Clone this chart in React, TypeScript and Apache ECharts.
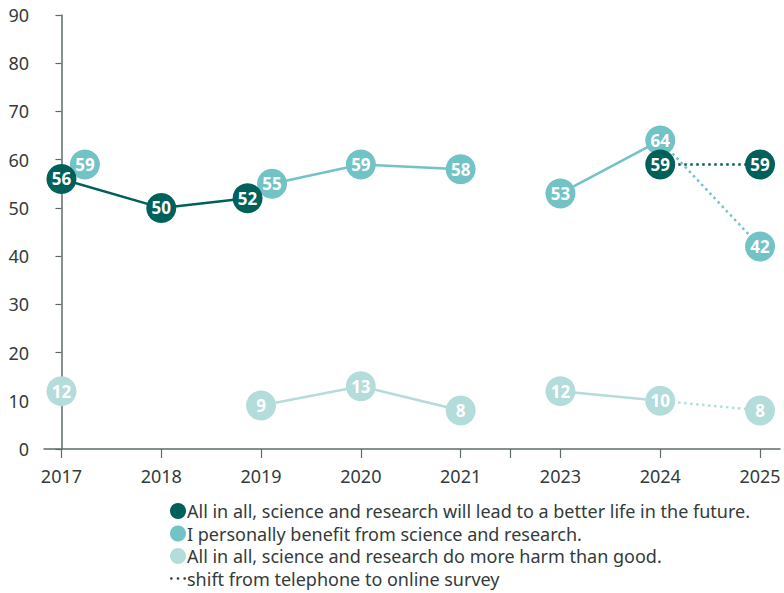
import React, { useEffect, useRef } from "react";
import * as echarts from "echarts";

// Survey years (2022 has no survey, so the axis jumps from 2021 to 2023)
const years = ["2017", "2018", "2019", "2020", "2021", "2023", "2024", "2025"];
const yTicks = [0, 10, 20, 30, 40, 50, 60, 70, 80, 90];

const betterLife = [56, 50, 52, null, null, null, 59, 59];
const personalBenefit = [59, null, 55, 59, 58, 53, 64, 42];
const moreHarm = [12, null, 9, 13, 8, 12, 10, 8];

// small horizontal nudges (in year steps) so overlapping bubbles stay readable
const betterLifeShift = [0, 0, -0.135, 0, 0, 0, 0, 0];
const benefitShift = [0.235, 0, 0.11, 0, 0, 0, 0, 0];
const harmShift = [0, 0, 0, 0, 0, 0, 0, 0];

// solid lines are broken before these years (survey gap / change of method)
const breakBefore = [false, false, false, false, false, true, false, true];

const names = [
  "All in all, science and research will lead to a better life in the future.",
  "I personally benefit from science and research.",
  "All in all, science and research do more harm than good.",
];
const methodNote = "shift from telephone to online survey";

const colors = ["#00605A", "#72C3C5", "#B4DCDB"];
const textColor = "#333B3B";
const axisColor = "#5E6B6B";
const font = "Noto Sans";

type Pt = [number, number | string];

function solidData(vals: (number | null)[], shift: number[]): Pt[] {
  const out: Pt[] = [];
  vals.forEach((v, i) => {
    if (v == null) {
      out.push([i, "-"]);
      return;
    }
    if (breakBefore[i]) out.push([i - 0.5, "-"]);
    out.push([i + shift[i], v]);
  });
  return out;
}

function dottedData(vals: (number | null)[], shift: number[]): Pt[] {
  const a = vals[6];
  const b = vals[7];
  if (a == null || b == null) return [];
  return [
    [6 + shift[6], a],
    [7 + shift[7], b],
  ];
}

export default function App() {
  const ref = useRef<HTMLDivElement>(null);

  useEffect(() => {
    document.body.style.margin = "0";
    if (!ref.current) return;
    const chart = echarts.init(ref.current, null, { renderer: "svg" });

    const valueSets = [betterLife, personalBenefit, moreHarm];
    const shifts = [betterLifeShift, benefitShift, harmShift];

    const dotted = valueSets.map((vals, k) => ({
      type: "line",
      name: names[k] + " (online)",
      data: dottedData(vals, shifts[k]),
      showSymbol: false,
      silent: true,
      z: 1,
      lineStyle: { color: colors[k], width: 2.5, type: [2.5, 3.5], cap: "butt" },
      itemStyle: { color: colors[k] },
    }));

    // draw the lightest series first so the darker bubbles sit on top
    const main = [2, 1, 0].map((k) => ({
      type: "line",
      name: names[k],
      data: solidData(valueSets[k], shifts[k]),
      connectNulls: false,
      symbol: "circle",
      symbolSize: 30,
      showSymbol: true,
      z: 3 + (2 - k),
      lineStyle: { color: colors[k], width: 2.5 },
      itemStyle: { color: colors[k] },
      label: {
        show: true,
        position: "inside",
        color: "#FFFFFF",
        fontFamily: font,
        fontWeight: "bold",
        fontSize: 17,
        formatter: (p: any) => String(p.value[1]),
      },
    }));

    const note = {
      type: "line",
      name: methodNote,
      data: [] as Pt[],
      itemStyle: { color: textColor },
      lineStyle: { color: textColor },
    };

    chart.setOption({
      animation: false,
      backgroundColor: "#FFFFFF",
      grid: { left: 44, right: 4, top: 15, bottom: 144, containLabel: false },
      xAxis: {
        type: "value",
        min: -0.175,
        max: 7.2,
        splitLine: { show: false },
        axisLine: { show: true, onZero: false, lineStyle: { color: axisColor, width: 1.5 } },
        axisTick: {
          show: true,
          length: 9,
          customValues: [0, 1, 2, 3, 4, 4.5, 5, 6, 7],
          lineStyle: { color: axisColor, width: 1.2 },
        },
        axisLabel: {
          customValues: [0, 1, 2, 3, 4, 5, 6, 7],
          formatter: (v: number) => years[Math.round(v)] ?? "",
          color: textColor,
          fontFamily: font,
          fontSize: 18,
          margin: 18,
        },
      },
      yAxis: {
        type: "value",
        min: yTicks[0],
        max: yTicks[yTicks.length - 1],
        interval: 10,
        splitLine: { show: false },
        axisLine: { show: true, lineStyle: { color: axisColor, width: 1.5 } },
        axisTick: { show: true, length: 6, lineStyle: { color: axisColor, width: 1.2 } },
        axisLabel: {
          color: textColor,
          fontFamily: font,
          fontSize: 18,
          margin: 15,
        },
      },
      legend: {
        orient: "vertical",
        left: 165,
        top: 497,
        height: 96,
        itemWidth: 16,
        itemHeight: 16,
        itemGap: 4.5,
        selectedMode: false,
        textStyle: { color: textColor, fontFamily: font, fontSize: 18, padding: [0, 0, 0, -4] },
        data: [
          { name: names[0], icon: "circle" },
          { name: names[1], icon: "circle" },
          { name: names[2], icon: "circle" },
          {
            name: methodNote,
            icon:
              "path://M0,1a1,1 0 1,0 2,0a1,1 0 1,0 -2,0M5,1a1,1 0 1,0 2,0a1,1 0 1,0 -2,0M10,1a1,1 0 1,0 2,0a1,1 0 1,0 -2,0",
          },
        ],
      },
      series: [...dotted, ...main, note],
    });

    return () => chart.dispose();
  }, []);

  return <div ref={ref} style={{ width: 784, height: 593 }} />;
}
